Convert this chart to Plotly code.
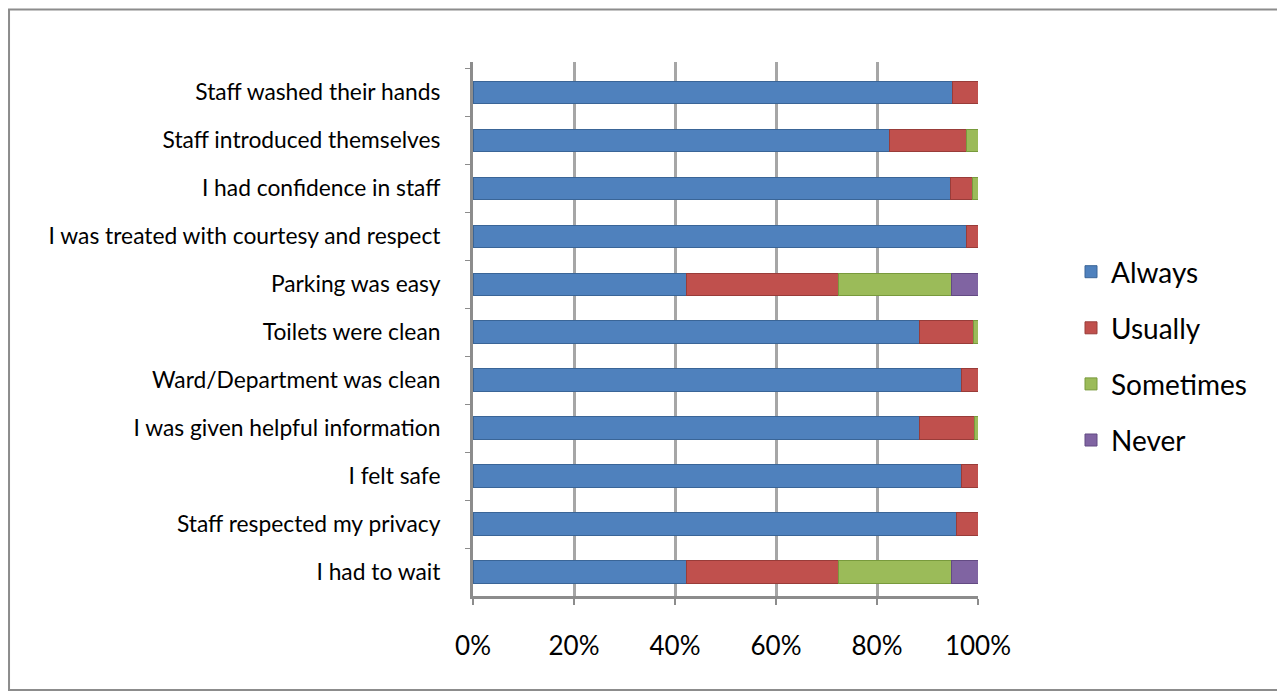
import plotly.graph_objects as go

categories = [
    "Staff washed their hands",
    "Staff introduced themselves",
    "I had confidence in staff",
    "I was treated with courtesy and respect",
    "Parking was easy",
    "Toilets were clean",
    "Ward/Department was clean",
    "I was given helpful information",
    "I felt safe",
    "Staff respected my privacy",
    "I had to wait",
]
always = [95, 82.5, 94.5, 97.8, 42.3, 88.5, 96.8, 88.5, 96.8, 95.8, 42.3]
usually = [5, 15.3, 4.5, 2.2, 30, 10.7, 3.2, 10.8, 3.2, 4.2, 30]
sometimes = [0, 2.2, 1, 0, 22.5, 0.8, 0, 0.7, 0, 0, 22.5]
never = [0, 0, 0, 0, 5.2, 0, 0, 0, 0, 0, 5.2]

series = [
    ("Always", always, "#4F81BD", "#3A6597"),
    ("Usually", usually, "#C0504D", "#993C39"),
    ("Sometimes", sometimes, "#9BBB59", "#789A3C"),
    ("Never", never, "#8064A2", "#634B83"),
]
tick_vals = [0, 20, 40, 60, 80, 100]
tick_text = ["0%", "20%", "40%", "60%", "80%", "100%"]

W, H = 1285, 700
OFF = 8  # page body margin
L, R = 473 - OFF, 978 - OFF
T, B = 61.5 - OFF, 596 - OFF

fig = go.Figure()
for name, vals, col, dark in series:
    fig.add_trace(go.Bar(
        y=categories, x=vals, name=name, orientation="h",
        marker=dict(color=col, line=dict(color=dark, width=1)),
        width=0.47, legendgroup=name,
    ))
# invisible helper on back-wall axis
fig.add_trace(go.Scatter(x=[0, 100], y=[categories[0], categories[0]], xaxis="x2",
                         mode="markers", marker=dict(opacity=0), showlegend=False,
                         hoverinfo="skip"))

fig.update_layout(
    width=W, height=H,
    margin=dict(l=0, r=0, t=T, b=H - B, autoexpand=False),
    barmode="stack",
    plot_bgcolor="white", paper_bgcolor="white",
    font=dict(family="Lato, Open Sans, sans-serif", color="#000000"),
    xaxis=dict(
        domain=[L / W, R / W], range=[0, 100], automargin=False,
        tickvals=tick_vals, ticktext=tick_text,
        showgrid=False, zeroline=False,
        showline=True, linecolor="#8C8C8C", linewidth=3,
        ticks="outside", ticklen=6, tickwidth=2, tickcolor="#8C8C8C",
        tickfont=dict(size=26), ticklabelstandoff=19,
    ),
    xaxis2=dict(
        domain=[(483 - OFF) / W, (992 - OFF) / W], range=[0, 100], overlaying="x",
        tickvals=tick_vals, showticklabels=False, automargin=False,
        showgrid=True, gridcolor="#A6A6A6", gridwidth=3,
        zeroline=False, showline=False, anchor="y",
    ),
    yaxis=dict(
        domain=[0, 1], autorange="reversed", automargin=False,
        showgrid=False, zeroline=False,
        showline=True, linecolor="#8C8C8C", linewidth=3,
        ticks="outside", ticklen=5, tickwidth=1, tickcolor="#8C8C8C",
        tickson="boundaries",
        tickfont=dict(size=22.8), ticklabelstandoff=25,
    ),
    legend=dict(
        xref="container", yref="container",
        x=(1071 - OFF) / W, y=1 - (247 - OFF) / H,
        xanchor="left", yanchor="top",
        font=dict(size=28), traceorder="grouped",
        tracegroupgap=16.7, itemwidth=30,
        bgcolor="rgba(0,0,0,0)",
    ),
    showlegend=True,
)

# outer chart border
fig.add_shape(type="rect", xref="paper", yref="paper",
              x0=(8 - OFF) / W + 0.0008, x1=(1278 - OFF) / W,
              y0=(B - (690 - OFF)) / (B - T), y1=(B - (8 - OFF)) / (B - T) - 0.002,
              line=dict(color="#8C8C8C", width=2), fillcolor="rgba(0,0,0,0)",
              layer="below")
fig.write_html("out.html")
